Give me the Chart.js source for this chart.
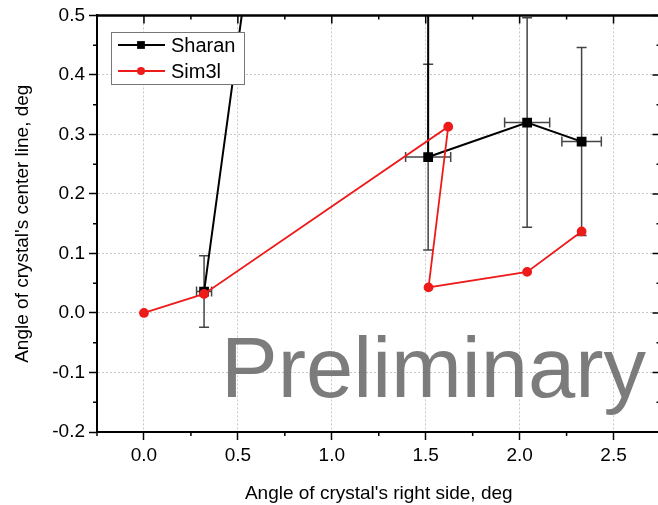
<!DOCTYPE html>
<html lang="en">
<head>
  <meta charset="UTF-8" />
  <title>Crystal angles</title>
  <script src="https://cdn.jsdelivr.net/npm/chart.js"></script>
  <style>
    html, body { margin: 0; padding: 0; background: #fff; overflow: hidden; }
  </style>
</head>
<body>
  <canvas id="angleChart" width="668" height="505"></canvas>

  <script>
    // Sharan measurement (with error bars); 2nd point lies far above the plot
    const sharanX    = [0.32,  1.515, 1.513, 2.04,  2.33];
    const sharanY    = [0.036, 2.8,   0.262, 0.32,  0.288];
    const sharanXErr = [0.04,  0,     0.12,  0.12,  0.105];
    const sharanYErr = [0.06,  0,     0.156, 0.176, 0.158];

    // Sim3l simulation
    const simX = [0, 0.32,  1.62,  1.515, 2.04,  2.33];
    const simY = [0, 0.032, 0.313, 0.043, 0.069, 0.137];

    const xTicks = [0.0, 0.5, 1.0, 1.5, 2.0, 2.5];
    const yTicks = [-0.2, -0.1, 0.0, 0.1, 0.2, 0.3, 0.4, 0.5];

    const FONT = "Arial, 'Liberation Sans', sans-serif";

    function toPoints(xs, ys) {
      return xs.map((x, i) => ({ x: x, y: ys[i] }));
    }

    // error bars for the Sharan dataset
    const errorBars = {
      id: "errorBars",
      beforeDatasetsDraw(chart) {
        const { ctx, chartArea: a, scales: { x, y } } = chart;
        ctx.save();
        ctx.beginPath();
        ctx.rect(a.left, a.top, a.right - a.left, a.bottom - a.top);
        ctx.clip();
        ctx.strokeStyle = "#444";
        ctx.lineWidth = 1.5;
        const cap = 5;
        sharanX.forEach((vx, i) => {
          const px = x.getPixelForValue(vx), py = y.getPixelForValue(sharanY[i]);
          if (sharanYErr[i] > 0) {
            const y1 = y.getPixelForValue(sharanY[i] + sharanYErr[i]);
            const y2 = y.getPixelForValue(sharanY[i] - sharanYErr[i]);
            ctx.beginPath();
            ctx.moveTo(px, y1); ctx.lineTo(px, y2);
            ctx.moveTo(px - cap, y1); ctx.lineTo(px + cap, y1);
            ctx.moveTo(px - cap, y2); ctx.lineTo(px + cap, y2);
            ctx.stroke();
          }
          if (sharanXErr[i] > 0) {
            const x1 = x.getPixelForValue(vx - sharanXErr[i]);
            const x2 = x.getPixelForValue(vx + sharanXErr[i]);
            ctx.beginPath();
            ctx.moveTo(x1, py); ctx.lineTo(x2, py);
            ctx.moveTo(x1, py - cap); ctx.lineTo(x1, py + cap);
            ctx.moveTo(x2, py - cap); ctx.lineTo(x2, py + cap);
            ctx.stroke();
          }
        });
        ctx.restore();
      }
    };

    // minor ticks, top + right axes, legend box and watermark
    const frame = {
      id: "frame",
      afterDraw(chart) {
        const { ctx, chartArea: a, scales: { x, y } } = chart;
        ctx.save();
        ctx.strokeStyle = "#000";

        // top and right axis lines
        ctx.lineWidth = 2.5;
        ctx.beginPath();
        ctx.moveTo(a.left, a.top); ctx.lineTo(a.right, a.top);
        ctx.stroke();
        ctx.lineWidth = 2;
        ctx.beginPath();
        ctx.moveTo(a.right, a.top); ctx.lineTo(a.right, a.bottom);
        ctx.stroke();

        ctx.lineWidth = 1.5;
        ctx.beginPath();
        for (let v = -0.25; v <= 2.75 + 1e-9; v += 0.25) {
          const px = x.getPixelForValue(v);
          const major = Math.abs(v * 2 - Math.round(v * 2)) < 1e-6;
          const len = major ? 8 : 4;
          // top axis, inward
          ctx.moveTo(px, a.top); ctx.lineTo(px, a.top + len);
          // bottom minor, outward
          if (!major) { ctx.moveTo(px, a.bottom); ctx.lineTo(px, a.bottom + len); }
        }
        for (let v = -0.2; v <= 0.5 + 1e-9; v += 0.05) {
          const py = y.getPixelForValue(v);
          const major = Math.abs(v * 10 - Math.round(v * 10)) < 1e-6;
          const len = major ? 8 : 4;
          // right axis, inward
          ctx.moveTo(a.right, py); ctx.lineTo(a.right - len, py);
          // left minor, outward
          if (!major) { ctx.moveTo(a.left, py); ctx.lineTo(a.left - len, py); }
        }
        ctx.stroke();

        // legend
        const lx = 111, ly = 32, lw = 133, lh = 52;
        ctx.fillStyle = "#fff";
        ctx.fillRect(lx, ly, lw, lh);
        ctx.strokeStyle = "#777";
        ctx.lineWidth = 1;
        ctx.strokeRect(lx + 0.5, ly + 0.5, lw, lh);
        chart.data.datasets.forEach((ds, i) => {
          const rowY = ly + 13 + i * 26;
          ctx.strokeStyle = ds.borderColor;
          ctx.lineWidth = ds.borderWidth;
          ctx.beginPath();
          ctx.moveTo(118, rowY); ctx.lineTo(165, rowY);
          ctx.stroke();
          ctx.fillStyle = ds.pointBackgroundColor;
          ctx.beginPath();
          if (ds.pointStyle === "rect") {
            const s = Math.SQRT1_2 * ds.pointRadius;
            ctx.rect(141 - s, rowY - s, 2 * s, 2 * s);
          } else {
            ctx.arc(141, rowY, ds.pointRadius, 0, Math.PI * 2);
          }
          ctx.fill();
          ctx.fillStyle = "#000";
          ctx.font = "20px " + FONT;
          ctx.textBaseline = "middle";
          ctx.textAlign = "left";
          ctx.fillText(ds.label, 171, rowY + 1);
        });

        // watermark
        ctx.fillStyle = "rgba(110,110,110,0.9)";
        ctx.font = "85px " + FONT;
        ctx.textBaseline = "alphabetic";
        ctx.textAlign = "left";
        ctx.fillText("Preliminary", 221, 397);

        ctx.restore();
      }
    };

    const ctx = document.getElementById("angleChart").getContext("2d");
    new Chart(ctx, {
      type: "line",
      data: {
        datasets: [
          {
            label: "Sharan",
            data: toPoints(sharanX, sharanY),
            borderColor: "#000",
            backgroundColor: "#000",
            borderWidth: 2,
            pointStyle: "rect",
            pointRadius: 5.5,
            pointBackgroundColor: "#000",
            pointBorderColor: "#000",
            order: 1
          },
          {
            label: "Sim3l",
            data: toPoints(simX, simY),
            borderColor: "#ee1b1b",
            backgroundColor: "#ee1b1b",
            borderWidth: 1.8,
            pointStyle: "circle",
            pointRadius: 4,
            pointBackgroundColor: "#ee1b1b",
            pointBorderColor: "#ee1b1b",
            order: 0
          }
        ]
      },
      options: {
        responsive: false,
        animation: false,
        devicePixelRatio: 1,
        layout: { padding: { top: 15, right: 6, left: 0, bottom: 0 } },
        plugins: { legend: { display: false }, tooltip: { enabled: false } },
        elements: { line: { tension: 0 } },
        scales: {
          x: {
            type: "linear",
            min: -0.25,
            max: 2.75,
            afterBuildTicks: (s) => { s.ticks = xTicks.map(v => ({ value: v })); },
            afterFit: (s) => { s.height = 73; },
            ticks: {
              color: "#000",
              font: { size: 19, family: FONT },
              padding: 4,
              maxRotation: 0,
              callback: (v) => Number(v).toFixed(1)
            },
            grid: { color: "#c8c8c8", tickColor: "#000", tickLength: 8, tickWidth: 1.5, lineWidth: 1 },
            border: { display: true, color: "#000", width: 2, dash: [2, 2] },
            title: {
              display: true,
              text: "Angle of crystal's right side, deg",
              color: "#000",
              font: { size: 19, family: FONT },
              padding: { top: 0, bottom: 0 }
            }
          },
          y: {
            type: "linear",
            min: -0.2,
            max: 0.5,
            afterBuildTicks: (s) => { s.ticks = yTicks.map(v => ({ value: v })); },
            afterFit: (s) => { s.width = 97; },
            ticks: {
              color: "#000",
              font: { size: 19, family: FONT },
              padding: 4,
              callback: (v) => Number(v).toFixed(1)
            },
            grid: { color: "#c8c8c8", tickColor: "#000", tickLength: 8, tickWidth: 1.5, lineWidth: 1 },
            border: { display: true, color: "#000", width: 2, dash: [2, 2] },
            title: {
              display: true,
              text: "Angle of crystal's center line, deg",
              color: "#000",
              font: { size: 19, family: FONT },
              padding: { top: 11, bottom: 0 }
            }
          }
        }
      },
      plugins: [errorBars, frame]
    });
  </script>
</body>
</html>
